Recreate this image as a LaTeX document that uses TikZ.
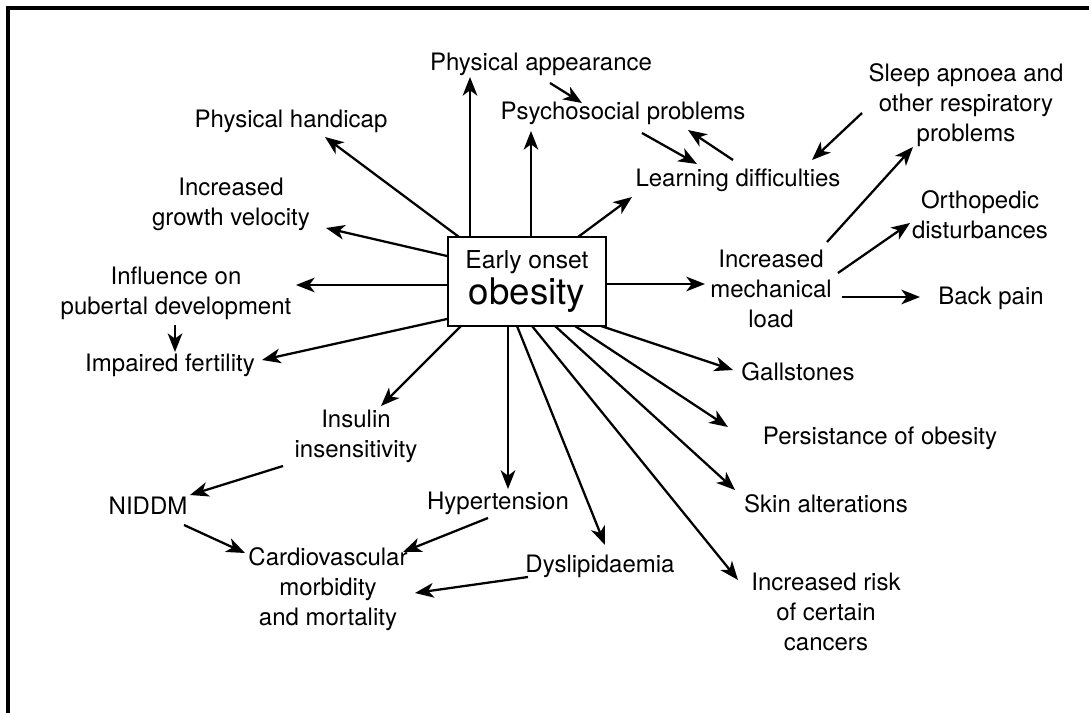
\documentclass[tikz,border=0pt]{standalone}
\usepackage{fontspec}
\setmainfont{TeX Gyre Heros}
\usetikzlibrary{arrows.meta,calc}
\begin{document}
\begin{tikzpicture}[x=0.75pt,y=-0.75pt,
  lbl/.style={inner sep=0pt,align=center,font=\fontsize{18}{22.5}\selectfont},
  arr/.style={-{Stealth[length=14pt,width=11pt,inset=4pt]},line width=1.7pt},
  mainbox/.style={draw,line width=2pt,minimum width=118.5pt,minimum height=66.75pt,inner sep=0pt,align=center}]
\useasboundingbox (0,0) rectangle (1089,713);
\fill[white] (0,0) rectangle (1089,713);
\draw[line width=2.4pt] (8,713) -- (8,8) -- (1089,8);

\node[mainbox] (ob) at (527,281.5) {\fontsize{18.5}{20}\selectfont Early onset\\[2pt]\fontsize{27.5}{28}\selectfont obesity};

\node[lbl] (pa) at (541,64) {Physical appearance};
\node[lbl] (ps) at (623,113) {Psychosocial problems};
\node[lbl] (ld) at (738,180) {Learning difficulties};
\node[lbl] (ph) at (291,121) {Physical handicap};
\node[lbl] (gv) at (231,204) {Increased\\growth velocity};
\node[lbl] (ip) at (176,293) {Influence on\\pubertal development};
\node[lbl] (if) at (170,365) {Impaired fertility};
\node[lbl] (ii) at (356,436) {Insulin\\insensitivity};
\node[lbl] (nd) at (148,506) {NIDDM};
\node[lbl] (ht) at (498,503) {Hypertension};
\node[lbl] (cv) at (328,589) {Cardiovascular\\morbidity\\and mortality};
\node[lbl] (dl) at (600,566) {Dyslipidaemia};
\node[lbl] (ca) at (826,612) {Increased risk\\of certain\\cancers};
\node[lbl] (sa) at (826,504) {Skin alterations};
\node[lbl] (po) at (880,438) {Persistance of obesity};
\node[lbl] (gs) at (798,372) {Gallstones};
\node[lbl] (ml) at (771,289) {Increased\\mechanical\\load};
\node[lbl] (bp) at (991,298) {Back pain};
\node[lbl] (od) at (980,215) {Orthopedic\\disturbances};
\node[lbl] (sl) at (966,105) {Sleep apnoea and\\other respiratory\\problems};

% from the central box
\draw[arr] ($(ob)+(-68,-44.5)$) -- ($(ph)+(34,16)$);
\draw[arr] ($(ob)+(-80,-25.5)$) -- ($(gv)+(95,24)$);
\draw[arr] ($(ob)+(-80,3.5)$) -- ($(ip)+(120,-8)$);
\draw[arr] ($(ob)+(-80,37.5)$) -- ($(if)+(92,-5)$);
\draw[arr] ($(ob)+(-66,44.5)$) -- ($(ii)+(25,-30)$);
\draw[arr] ($(ob)+(-19,44.5)$) -- ($(ht)+(10,-14)$);
\draw[arr] ($(ob)+(-10,44.5)$) -- ($(dl)+(5,-21)$);
\draw[arr] ($(ob)+(5,44.5)$) -- ($(ca)+(-88,-32)$);
\draw[arr] ($(ob)+(28,44.5)$) -- ($(sa)+(-91,-14)$);
\draw[arr] ($(ob)+(48,44.5)$) -- ($(po)+(-152,-11)$);
\draw[arr] ($(ob)+(74,44.5)$) -- ($(gs)+(-65,-2)$);
\draw[arr] ($(ob)+(79.5,2.5)$) -- ($(ml)+(-66,-5)$);
\draw[arr] ($(ob)+(51,-44.5)$) -- ($(ld)+(-106,17)$);
\draw[arr] ($(ob)+(4,-44.5)$) -- ($(ps)+(-92,18)$);
\draw[arr] ($(ob)+(-57,-44.5)$) -- ($(pa)+(-71,13)$);

% other links
\draw[arr] ($(ip)+(-1,32)$) -- ($(if)+(5,-13)$);
\draw[arr] ($(pa)+(9,19)$) -- ($(ps)+(-41,-10)$);
\draw[arr] ($(ps)+(19,20)$) -- ($(ld)+(-41,-16)$);
\draw[arr] ($(ld)+(-5,-20)$) -- ($(ps)+(65,17)$);
\draw[arr] ($(sl)+(-104,8)$) -- ($(ld)+(74,-20)$);
\draw[arr] ($(ml)+(56,-47)$) -- ($(sl)+(-53,42)$);
\draw[arr] ($(ml)+(67,-16)$) -- ($(od)+(-70,8)$);
\draw[arr] ($(ml)+(71,8)$) -- ($(bp)+(-71,-1)$);
\draw[arr] ($(ii)+(-73,30)$) -- ($(nd)+(42,-11)$);
\draw[arr] ($(nd)+(36,19)$) -- ($(cv)+(-83,-36)$);
\draw[arr] ($(ht)+(-10,15)$) -- ($(cv)+(75,-37)$);
\draw[arr] ($(dl)+(-72,11)$) -- ($(cv)+(87,4)$);
\end{tikzpicture}
\end{document}
